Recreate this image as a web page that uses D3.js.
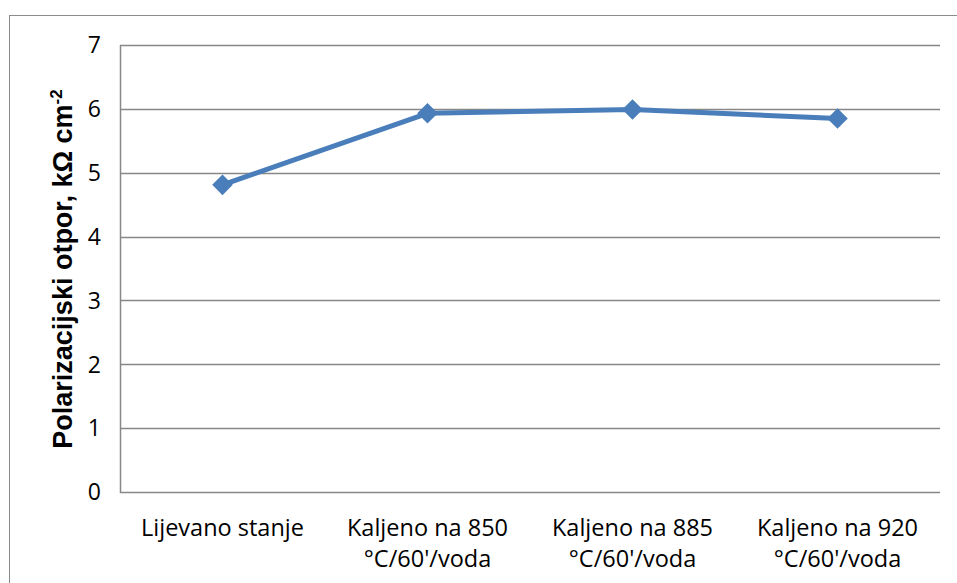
<!DOCTYPE html>
<html>
<head>
<meta charset="utf-8">
<script src="https://cdn.jsdelivr.net/npm/d3@7"></script>
<style>
  body { margin: 0; background: #fff; }
  svg { display: block; }
</style>
</head>
<body>
<svg id="chart" width="957" height="583"></svg>
<script>
// Polarization resistance by heat-treatment condition
const categories = [
  ["Lijevano stanje"],
  ["Kaljeno na 850", "°C/60'/voda"],
  ["Kaljeno na 885", "°C/60'/voda"],
  ["Kaljeno na 920", "°C/60'/voda"]
];
const values = [4.81, 5.93, 5.99, 5.85];
const yTicks = [0, 1, 2, 3, 4, 5, 6, 7];
const yTitle = "Polarizacijski otpor, kΩ cm";

const svg = d3.select("#chart");
const W = 957, H = 583;
const plot = { left: 120, right: 940, top: 45, bottom: 492 };

// outer chart frame (cropped at right and bottom)
svg.append("rect")
  .attr("x", 9.5).attr("y", 15.5)
  .attr("width", W).attr("height", H)
  .attr("fill", "none").attr("stroke", "#8c8c8c").attr("stroke-width", 1);

const x = d3.scaleBand()
  .domain(d3.range(categories.length))
  .range([plot.left, plot.right]);
const y = d3.scaleLinear().domain([0, 7]).range([plot.bottom, plot.top]);

// horizontal gridlines
svg.append("g").selectAll("line").data(yTicks).join("line")
  .attr("x1", plot.left).attr("x2", plot.right)
  .attr("y1", d => Math.round(y(d)) + 0.5).attr("y2", d => Math.round(y(d)) + 0.5)
  .attr("stroke", "#878787").attr("stroke-width", 1.5);

// vertical axis line
svg.append("line")
  .attr("x1", plot.left + 0.5).attr("x2", plot.left + 0.5)
  .attr("y1", plot.top).attr("y2", plot.bottom + 1)
  .attr("stroke", "#878787").attr("stroke-width", 1.5);

// y tick labels
svg.append("g").selectAll("text").data(yTicks).join("text")
  .attr("x", 101).attr("y", d => y(d))
  .attr("dy", "0.36em")
  .attr("text-anchor", "end")
  .attr("font-family", "'Open Sans', 'Liberation Sans', sans-serif")
  .attr("font-size", 23)
  .attr("fill", "#000")
  .text(d => d);

// x category labels
const xl = svg.append("g").selectAll("text").data(categories).join("text")
  .attr("x", (d, i) => x(i) + x.bandwidth() / 2)
  .attr("y", 536)
  .attr("text-anchor", "middle")
  .attr("font-family", "'Open Sans', 'Liberation Sans', sans-serif")
  .attr("font-size", 23.5)
  .attr("fill", "#000");
xl.selectAll("tspan").data(d => d).join("tspan")
  .attr("x", function () { return d3.select(this.parentNode).attr("x"); })
  .attr("dy", (d, i) => i === 0 ? 0 : 31)
  .text(d => d);

// y axis title
const t = svg.append("text")
  .attr("transform", "translate(72," + 269 + ") rotate(-90)")
  .attr("text-anchor", "middle")
  .attr("font-family", "'Liberation Sans', Arial, sans-serif")
  .attr("font-weight", "bold")
  .attr("font-size", 27)
  .attr("fill", "#000");
t.append("tspan").text(yTitle);
t.append("tspan").attr("dy", -10).attr("font-size", 17).text("-2");

// series line
const line = d3.line()
  .x((d, i) => x(i) + x.bandwidth() / 2)
  .y(d => y(d));
svg.append("path")
  .datum(values)
  .attr("d", line)
  .attr("fill", "none")
  .attr("stroke", "#4a7ebb")
  .attr("stroke-width", 5)
  .attr("stroke-linejoin", "round");

// diamond markers
svg.append("g").selectAll("path").data(values).join("path")
  .attr("transform", (d, i) => "translate(" + (x(i) + x.bandwidth() / 2) + "," + y(d) + ")")
  .attr("d", d3.symbol().type(d3.symbolDiamond2).size(270))
  .attr("fill", "#4a7ebb");
</script>
</body>
</html>
